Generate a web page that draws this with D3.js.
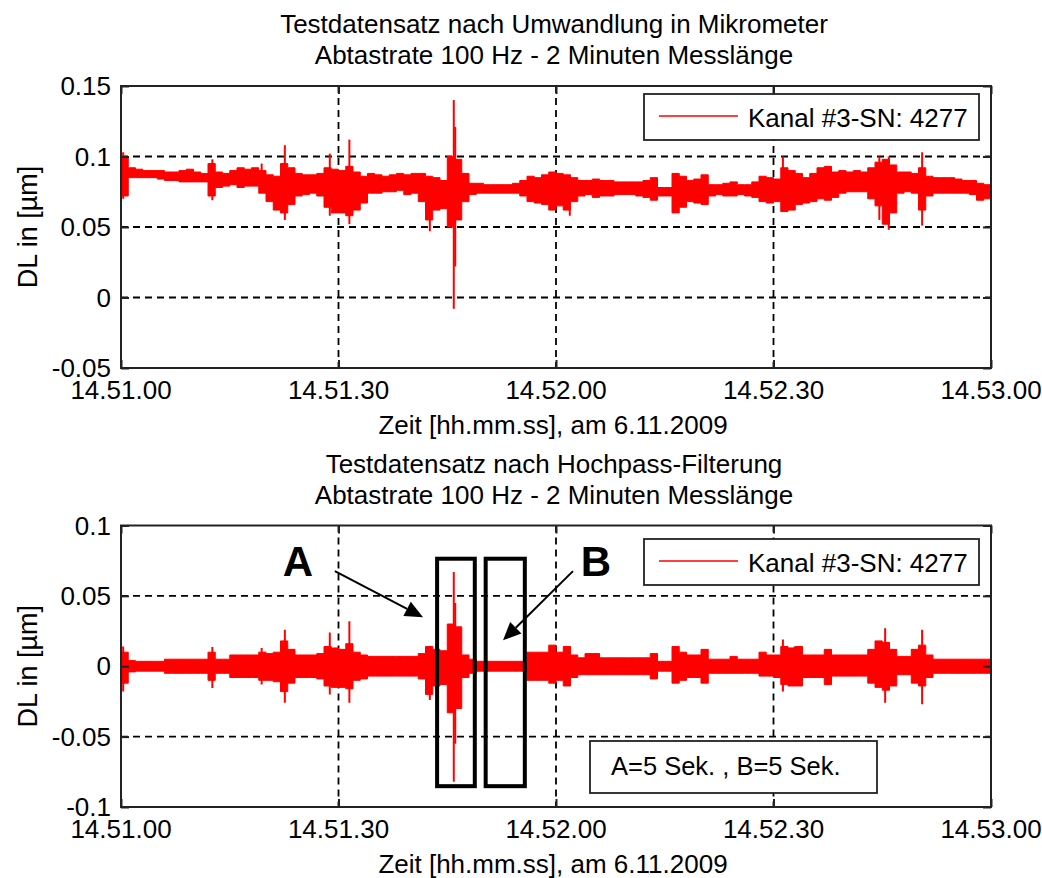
<!DOCTYPE html>
<html><head><meta charset="utf-8">
<script src="https://cdn.jsdelivr.net/npm/d3@7"></script>
<style>
body{margin:0;background:#fff;}
text{font-family:Arial,"Liberation Sans",sans-serif;fill:#000;}
</style></head><body>
<svg id="c" width="1042" height="878"></svg>
<script>
// ---------- data (seconds after 14.51.00, values in µm) ----------
const xTickSeconds = [0, 30, 60, 90, 120];
const xTickLabels = ["14.51.00", "14.51.30", "14.52.00", "14.52.30", "14.53.00"];
const topYTicks = [-0.05, 0, 0.05, 0.1, 0.15];
const topYTickLabels = ["-0.05", "0", "0.05", "0.1", "0.15"];
const botYTicks = [-0.1, -0.05, 0, 0.05, 0.1];
const botYTickLabels = ["-0.1", "-0.05", "0", "0.05", "0.1"];

// envelope per 1-second bin (max / min of the 100 Hz trace)
const topHi = [0.100,0.092,0.091,0.090,0.090,0.090,0.089,0.089,0.090,0.091,
0.089,0.088,0.095,0.089,0.088,0.090,0.092,0.091,0.092,0.090,
0.087,0.086,0.095,0.092,0.088,0.087,0.087,0.088,0.092,0.091,
0.090,0.093,0.089,0.086,0.088,0.087,0.086,0.087,0.088,0.087,
0.088,0.088,0.086,0.085,0.083,0.100,0.098,0.088,0.081,0.081,
0.080,0.080,0.080,0.080,0.081,0.083,0.086,0.085,0.087,0.089,
0.088,0.087,0.085,0.083,0.083,0.084,0.083,0.083,0.082,0.082,
0.082,0.082,0.083,0.085,0.078,0.078,0.088,0.086,0.083,0.084,
0.087,0.080,0.080,0.081,0.082,0.080,0.080,0.082,0.086,0.085,
0.084,0.092,0.090,0.088,0.085,0.088,0.092,0.093,0.089,0.090,
0.089,0.090,0.089,0.092,0.096,0.098,0.094,0.089,0.089,0.088,
0.092,0.086,0.085,0.085,0.085,0.084,0.083,0.083,0.081,0.080,
0.079];
const topLo = [0.072,0.085,0.085,0.085,0.085,0.084,0.083,0.083,0.082,0.082,
0.082,0.082,0.072,0.078,0.079,0.080,0.078,0.079,0.079,0.074,
0.068,0.062,0.060,0.066,0.072,0.073,0.074,0.072,0.064,0.060,
0.060,0.058,0.062,0.067,0.074,0.074,0.075,0.075,0.076,0.073,
0.074,0.068,0.055,0.062,0.063,0.050,0.055,0.068,0.073,0.074,
0.074,0.074,0.074,0.074,0.074,0.072,0.068,0.067,0.066,0.062,
0.065,0.062,0.068,0.072,0.073,0.071,0.072,0.072,0.073,0.073,
0.073,0.072,0.071,0.069,0.072,0.072,0.060,0.064,0.068,0.067,
0.066,0.072,0.073,0.072,0.072,0.073,0.072,0.071,0.068,0.067,
0.068,0.061,0.062,0.066,0.067,0.068,0.070,0.069,0.071,0.074,
0.075,0.075,0.075,0.070,0.065,0.052,0.060,0.074,0.075,0.074,
0.062,0.072,0.074,0.074,0.074,0.074,0.074,0.073,0.069,0.070,
0.071];
// narrow spikes
const topSpikeT  = [0.3, 12.6, 19.4, 22.6, 28.8, 31.5, 42.6, 45.9, 46.1, 61.9, 91.3, 104.6, 105.9, 110.5];
const topSpikeHi = [0.103,0.098,0.095,0.108,0.102,0.112,0.086,0.140,0.121,0.086,0.100,0.100,0.100,0.103];
const topSpikeLo = [0.070,0.069,0.078,0.055,0.058,0.052,0.047,-0.008,0.022,0.058,0.065,0.055,0.048,0.051];

const botHi = [0.010,0.004,0.0035,0.0035,0.0035,0.0035,0.005,0.005,0.005,0.005,
0.005,0.005,0.010,0.005,0.005,0.008,0.008,0.008,0.008,0.010,
0.009,0.010,0.018,0.012,0.008,0.008,0.008,0.009,0.014,0.013,
0.012,0.016,0.010,0.008,0.007,0.007,0.007,0.007,0.007,0.007,
0.007,0.009,0.014,0.012,0.011,0.030,0.028,0.008,0.005,0.0035,
0.0035,0.0035,0.0035,0.0035,0.0035,0.0035,0.010,0.010,0.010,0.015,
0.010,0.014,0.008,0.006,0.009,0.009,0.006,0.006,0.006,0.006,
0.006,0.006,0.006,0.009,0.0035,0.0035,0.014,0.010,0.008,0.008,
0.012,0.005,0.005,0.005,0.007,0.005,0.005,0.005,0.010,0.008,
0.008,0.014,0.013,0.014,0.008,0.008,0.008,0.012,0.008,0.008,
0.008,0.008,0.008,0.012,0.018,0.017,0.012,0.007,0.007,0.012,
0.015,0.008,0.005,0.005,0.005,0.005,0.005,0.005,0.005,0.005,
0.006];
const botLo = [-0.012,-0.004,-0.0035,-0.0035,-0.0035,-0.0035,-0.005,-0.005,-0.005,-0.005,
-0.005,-0.005,-0.010,-0.005,-0.005,-0.008,-0.008,-0.008,-0.008,-0.010,
-0.010,-0.011,-0.018,-0.012,-0.008,-0.008,-0.008,-0.009,-0.014,-0.015,
-0.015,-0.016,-0.010,-0.009,-0.007,-0.007,-0.007,-0.007,-0.007,-0.007,
-0.007,-0.009,-0.020,-0.014,-0.013,-0.033,-0.030,-0.008,-0.005,-0.0035,
-0.0035,-0.0035,-0.0035,-0.0035,-0.0035,-0.0035,-0.010,-0.010,-0.010,-0.012,
-0.010,-0.014,-0.008,-0.006,-0.006,-0.006,-0.006,-0.006,-0.006,-0.006,
-0.006,-0.006,-0.006,-0.009,-0.0035,-0.0035,-0.012,-0.010,-0.008,-0.008,
-0.012,-0.005,-0.005,-0.005,-0.005,-0.005,-0.005,-0.005,-0.007,-0.007,
-0.008,-0.013,-0.014,-0.014,-0.008,-0.008,-0.008,-0.013,-0.007,-0.007,
-0.007,-0.007,-0.007,-0.012,-0.015,-0.017,-0.014,-0.006,-0.006,-0.012,
-0.014,-0.008,-0.005,-0.005,-0.005,-0.005,-0.005,-0.005,-0.005,-0.005,
-0.007];
const botSpikeT  = [0.3, 12.6, 19.4, 22.6, 28.8, 31.5, 42.6, 45.9, 46.1, 91.3, 92.9, 104.4, 105.4, 110.5];
const botSpikeHi = [0.014,0.0136,0.013,0.026,0.024,0.032,0.010,0.067,0.045,0.019,0.014,0.018,0.027,0.026];
const botSpikeLo = [-0.018,-0.0155,-0.013,-0.026,-0.020,-0.026,-0.024,-0.082,-0.055,-0.018,-0.014,-0.010,-0.026,-0.027];

const seriesName = "Kanal #3-SN: 4277";
const subTitle = "Abtastrate 100 Hz - 2 Minuten Messlänge";
const xLabel = "Zeit [hh.mm.ss], am 6.11.2009";
const yLabel = "DL in [µm]";

// ---------- drawing ----------
const svg = d3.select("#c");
const FONT = 26;
const RED = "#ff0000";
const x = d3.scaleLinear().domain([0, 120]).range([121, 991]);

function panel(o) {
  const y = d3.scaleLinear().domain(o.yDomain).range([o.bottom, o.top]);
  const g = svg.append("g");
  const cid = "clip" + o.id;
  svg.append("clipPath").attr("id", cid).append("rect")
    .attr("x", 121).attr("y", o.top).attr("width", 870).attr("height", o.bottom - o.top);

  // grid
  g.selectAll(".hg").data(o.yTicks.filter(v => v > o.yDomain[0] && v < o.yDomain[1])).join("line")
    .attr("x1", 121).attr("x2", 991).attr("y1", d => y(d)).attr("y2", d => y(d))
    .attr("stroke", "#000").attr("stroke-width", 1.8).attr("stroke-dasharray", "7,5");
  g.selectAll(".vg").data(xTickSeconds.slice(1, -1)).join("line")
    .attr("y1", o.top).attr("y2", o.bottom).attr("x1", d => x(d)).attr("x2", d => x(d))
    .attr("stroke", "#000").attr("stroke-width", 1.8).attr("stroke-dasharray", "7,5");

  // trace
  const tg = g.append("g").attr("clip-path", `url(#${cid})`);
  const env = o.hi.map((h, i) => ({t: i, hi: h, lo: o.lo[i]}));
  const area = d3.area().x(d => x(d.t)).y0(d => y(d.lo)).y1(d => y(d.hi)).curve(d3.curveStepAfter);
  tg.append("path").datum(env).attr("d", area).attr("fill", RED).attr("stroke", RED).attr("stroke-width", 1);
  tg.selectAll(".sp").data(o.spT.map((t, i) => ({t, hi: o.spHi[i], lo: o.spLo[i]}))).join("line")
    .attr("x1", d => x(d.t)).attr("x2", d => x(d.t)).attr("y1", d => y(d.hi)).attr("y2", d => y(d.lo))
    .attr("stroke", RED).attr("stroke-width", 2);

  // axes box and ticks
  const axB = d3.axisBottom(x).tickValues(xTickSeconds).tickSize(-8).tickFormat("");
  const axT = d3.axisTop(x).tickValues(xTickSeconds).tickSize(-8).tickFormat("");
  const axL = d3.axisLeft(y).tickValues(o.yTicks).tickSize(-8).tickFormat("");
  const axR = d3.axisRight(y).tickValues(o.yTicks).tickSize(-8).tickFormat("");
  [[axB, `translate(0,${o.bottom})`], [axT, `translate(0,${o.top})`], [axL, "translate(121,0)"], [axR, "translate(991,0)"]]
    .forEach(([a, tr]) => {
      const s = g.append("g").attr("transform", tr).call(a);
      s.select(".domain").remove();
      s.selectAll("line").attr("stroke", "#222").attr("stroke-width", 2);
    });
  g.append("rect").attr("x", 121).attr("y", o.top).attr("width", 870).attr("height", o.bottom - o.top)
    .attr("fill", "none").attr("stroke", "#222").attr("stroke-width", 2);

  // tick labels
  g.selectAll(".xl").data(xTickSeconds).join("text")
    .attr("x", d => x(d)).attr("y", o.bottom + 31).attr("text-anchor", "middle")
    .attr("font-size", FONT).text((d, i) => xTickLabels[i]);
  g.selectAll(".yl").data(o.yTicks).join("text")
    .attr("x", 111).attr("y", d => y(d) + 9).attr("text-anchor", "end")
    .attr("font-size", FONT).text((d, i) => o.yTickLabels[i]);

  // labels
  g.append("text").attr("x", 553).attr("y", o.bottom + 66).attr("text-anchor", "middle")
    .attr("font-size", FONT).text(xLabel);
  g.append("text").attr("transform", `translate(37,${(o.top + o.bottom) / 2}) rotate(-90)`)
    .attr("text-anchor", "middle").attr("font-size", FONT + 1).text(yLabel);
  g.append("text").attr("x", 554).attr("y", o.titleY).attr("text-anchor", "middle")
    .attr("font-size", FONT).text(o.title);
  g.append("text").attr("x", 554).attr("y", o.titleY + 31).attr("text-anchor", "middle")
    .attr("font-size", FONT).text(subTitle);

  // legend
  const ly = o.legendTop;
  g.append("rect").attr("x", 644).attr("y", ly).attr("width", 335).attr("height", 46)
    .attr("fill", "#fff").attr("stroke", "#222").attr("stroke-width", 1.8);
  g.append("line").attr("x1", 659).attr("x2", 738).attr("y1", ly + 22).attr("y2", ly + 22)
    .attr("stroke", RED).attr("stroke-width", 1.6);
  g.append("text").attr("x", 748).attr("y", ly + 33).attr("font-size", FONT).text(seriesName);
  return y;
}

panel({id: "a", top: 86, bottom: 368, yDomain: [-0.05, 0.15], yTicks: topYTicks, yTickLabels: topYTickLabels,
  hi: topHi, lo: topLo, spT: topSpikeT, spHi: topSpikeHi, spLo: topSpikeLo,
  title: "Testdatensatz nach Umwandlung in Mikrometer", titleY: 33, legendTop: 94});
const yB = panel({id: "b", top: 525.5, bottom: 807, yDomain: [-0.1, 0.1], yTicks: botYTicks, yTickLabels: botYTickLabels,
  hi: botHi, lo: botLo, spT: botSpikeT, spHi: botSpikeHi, spLo: botSpikeLo,
  title: "Testdatensatz nach Hochpass-Filterung", titleY: 473, legendTop: 539});

// ---------- annotations (in data coordinates) ----------
const boxT = [[43.6, 48.8], [50.3, 55.7]];
const boxV = [0.0764, -0.0852];
const ann = svg.append("g");
boxT.forEach(b => {
  ann.append("rect").attr("x", x(b[0])).attr("y", yB(boxV[0]))
    .attr("width", x(b[1]) - x(b[0])).attr("height", yB(boxV[1]) - yB(boxV[0]))
    .attr("fill", "none").attr("stroke", "#000").attr("stroke-width", 4);
});
const arrows = [{from: [29.5, 0.0676], to: [41.66, 0.0348]}, {from: [62.34, 0.0676], to: [52.69, 0.0184]}];
arrows.forEach(a => {
  const x1 = x(a.from[0]), y1 = yB(a.from[1]), x2 = x(a.to[0]), y2 = yB(a.to[1]);
  const dx = x2 - x1, dy = y2 - y1, L = Math.hypot(dx, dy), ux = dx / L, uy = dy / L;
  const hl = 18, hw = 8;
  const bx = x2 - ux * hl, by = y2 - uy * hl;
  ann.append("line").attr("x1", x1).attr("y1", y1).attr("x2", bx).attr("y2", by)
    .attr("stroke", "#000").attr("stroke-width", 2);
  ann.append("polygon").attr("points",
    `${x2},${y2} ${bx - uy * hw},${by + ux * hw} ${bx + uy * hw},${by - ux * hw}`).attr("fill", "#000");
});
ann.append("text").attr("x", x(24.4)).attr("y", yB(0.064)).attr("text-anchor", "middle")
  .attr("font-size", 42).attr("font-weight", "bold").text("A");
ann.append("text").attr("x", x(65.5)).attr("y", yB(0.064)).attr("text-anchor", "middle")
  .attr("font-size", 42).attr("font-weight", "bold").text("B");
ann.append("rect").attr("x", 590).attr("y", 741).attr("width", 287).attr("height", 52)
  .attr("fill", "#fff").attr("stroke", "#222").attr("stroke-width", 1.8);
ann.append("text").attr("x", 611).attr("y", 775).attr("font-size", 25.5).text("A=5 Sek. , B=5 Sek.");
</script>
</body></html>
